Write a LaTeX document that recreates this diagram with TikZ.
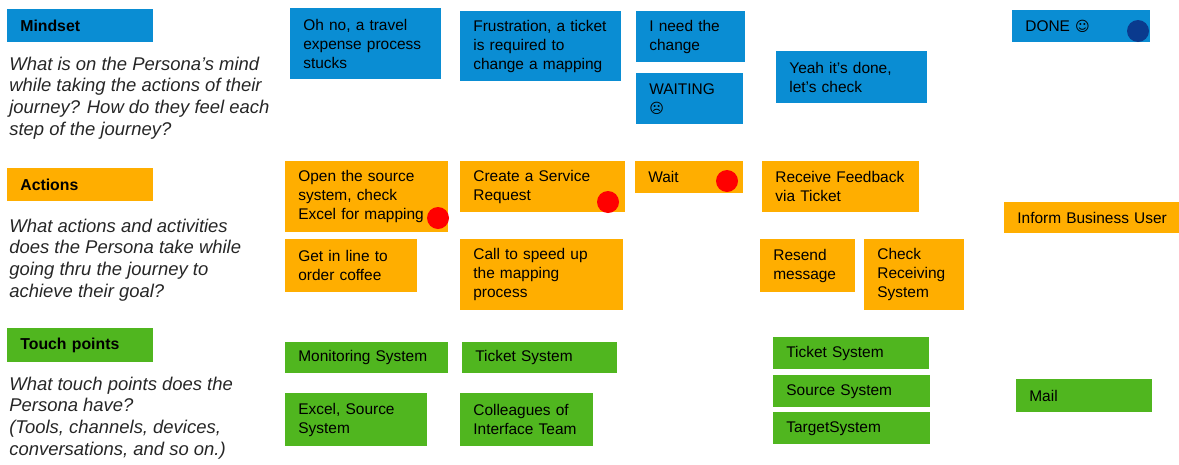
\documentclass[tikz,border=0pt]{standalone}
\usepackage{fontspec}
\setmainfont{Liberation Sans}
\newfontfamily\simbolo{DejaVu Sans}
\definecolor{azulM}{HTML}{0A8DD3}
\definecolor{naranjaA}{HTML}{FFAE00}
\definecolor{verdeT}{HTML}{50B61F}
\definecolor{azulPunto}{HTML}{0A3A8E}
\tikzset{
  nota/.style={anchor=north west, inner xsep=0.26cm, inner ysep=0pt, align=left,
    font=\fontsize{8.8}{10.8}\selectfont},
  tam/.style 2 args={text width=#1, minimum height=#2},
  mente/.style={nota, fill=azulM},
  accion/.style={nota, fill=naranjaA},
  contacto/.style={nota, fill=verdeT},
  titulo/.style={font=\bfseries\fontsize{9}{11}\selectfont},
  pregunta/.style={anchor=west, inner sep=0pt, align=left,
    font=\itshape\fontsize{10.5}{12.4}\selectfont, text=black!85},
  punto/.style={circle, inner sep=0pt, minimum size=0.44cm}
}
\begin{document}
\begin{tikzpicture}[x=0.02cm, y=-0.02cm]
  \useasboundingbox (0,0) rectangle (1179,464);

  % Cabeceras de fila
  \node[mente, titulo, tam={2.40cm}{0.66cm}] (mindset) at (7,9) {Mindset};
  \node[accion, titulo, tam={2.40cm}{0.66cm}] (actions) at (7,168) {Actions};
  \node[contacto, titulo, tam={2.40cm}{0.68cm}] (touch) at (7,328) {Touch points};

  % Preguntas
  \node[pregunta] (mq) at (9,98) {What is on the Persona's mind\\while taking the actions of their\\journey? How do they feel each\\step of the journey?};
  \node[pregunta] (aq) at (9,260) {What actions and activities\\does the Persona take while\\going thru the journey to\\achieve their goal?};
  \node[pregunta] (tq) at (9,418) {What touch points does the\\Persona have?\\(Tools, channels, devices,\\conversations, and so on.)};

  % Mindset
  \node[mente, tam={2.50cm}{1.42cm}] (m1) at (290,8) {Oh no, a travel\\expense process\\stucks};
  \node[mente, tam={2.70cm}{1.40cm}] (m2) at (460,11) {Frustration, a ticket\\is required to\\change a mapping};
  \node[mente, tam={1.66cm}{1.02cm}] (m3) at (636,11) {I need the\\change};
  \node[mente, tam={1.62cm}{1.02cm}] (m4) at (636,73) {WAITING\\{\simbolo\fontsize{8}{10}\selectfont ☹}};
  \node[mente, tam={2.50cm}{1.04cm}] (m5) at (776,51) {Yeah it's done,\\let's check};
  \node[mente, tam={2.24cm}{0.64cm}] (m6) at (1012,10) {DONE {\simbolo\fontsize{8}{10}\selectfont ☺}};

  % Actions
  \node[accion, tam={2.74cm}{1.42cm}] (a1) at (285,161) {Open the source\\system, check\\Excel for mapping};
  \node[accion, tam={2.78cm}{1.02cm}] (a2) at (460,161) {Create a Service\\Request};
  \node[accion, tam={1.64cm}{0.64cm}] (a3) at (635,161) {Wait};
  \node[accion, tam={2.62cm}{1.02cm}] (a4) at (762,161) {Receive Feedback\\via Ticket};
  \node[accion, tam={2.98cm}{0.62cm}] (a5) at (1004,202) {\mbox{Inform Business User}};
  \node[accion, tam={2.12cm}{1.06cm}] (a6) at (285,239) {Get in line to\\order coffee};
  \node[accion, tam={2.74cm}{1.42cm}] (a7) at (460,239) {Call to speed up\\the mapping\\process};
  \node[accion, tam={1.38cm}{1.06cm}] (a8) at (760,239) {Resend\\message};
  \node[accion, tam={1.48cm}{1.42cm}] (a9) at (864,239) {Check\\Receiving\\System};

  % Touch points
  \node[contacto, tam={2.74cm}{0.62cm}] (t1) at (285,342) {Monitoring System};
  \node[contacto, tam={2.58cm}{0.62cm}] (t2) at (462,342) {Ticket System};
  \node[contacto, tam={2.32cm}{1.06cm}] (t3) at (285,393) {Excel, Source\\System};
  \node[contacto, tam={2.14cm}{1.06cm}] (t4) at (460,393) {Colleagues of\\Interface Team};
  \node[contacto, tam={2.60cm}{0.64cm}] (t5) at (773,337) {Ticket System};
  \node[contacto, tam={2.62cm}{0.64cm}] (t6) at (773,375) {Source System};
  \node[contacto, tam={2.62cm}{0.64cm}] (t7) at (773,412) {TargetSystem};
  \node[contacto, tam={2.20cm}{0.66cm}] (t8) at (1016,379) {Mail};

  % Puntos
  \node[punto, fill=red] (p1) at (438,218) {};
  \node[punto, fill=red] (p2) at (608,202) {};
  \node[punto, fill=red] (p3) at (727,181) {};
  \node[punto, fill=azulPunto] (p4) at (1138,31) {};
\end{tikzpicture}
\end{document}
